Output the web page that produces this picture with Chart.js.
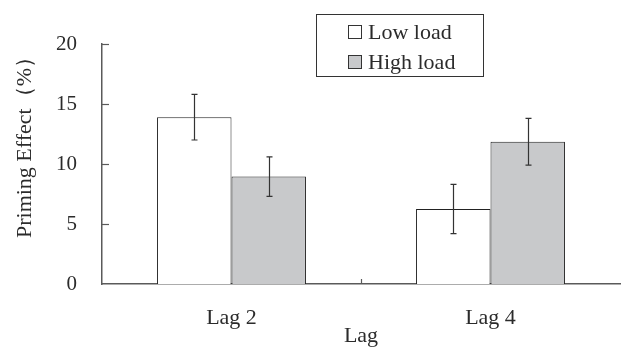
<!DOCTYPE html>
<html>
<head>
<meta charset="utf-8">
<script src="https://cdn.jsdelivr.net/npm/chart.js@4/dist/chart.umd.min.js"></script>
<style>
  html, body { margin: 0; padding: 0; background: #fff; }
  #wrap { width: 621px; height: 347px; }
</style>
</head>
<body>
<div id="wrap"><canvas id="chart" width="621" height="347"></canvas></div>
<script>
// --- data ---
const categories = ['Lag 2', 'Lag 4'];
const lowLoad = [13.9, 6.25];
const lowLoadErr = [1.9, 2.05];
const highLoad = [8.95, 11.85];
const highLoadErr = [1.65, 1.95];
const yTicks = [0, 5, 10, 15, 20];

const FONT = '"Liberation Serif", "DejaVu Serif", serif';
const TEXT = '#2b2b2b';
const AXIS = '#5a5a5a';

const errors = [lowLoadErr, highLoadErr];

// error bars, inward ticks, boxed legend, y title
const extras = {
    id: 'extras',
    afterDatasetsDraw(chart) {
        const ctx = chart.ctx;
        const y = chart.scales.y;
        const x = chart.scales.x;
        const area = chart.chartArea;
        ctx.save();
        ctx.strokeStyle = '#333';
        ctx.lineWidth = 1.2;
        chart.data.datasets.forEach((ds, di) => {
            const meta = chart.getDatasetMeta(di);
            meta.data.forEach((bar, i) => {
                const v = ds.data[i];
                const e = errors[di][i];
                const top = y.getPixelForValue(v + e);
                const bot = y.getPixelForValue(v - e);
                const cx = Math.round(bar.x) + 0.5;
                ctx.beginPath();
                ctx.moveTo(cx, top); ctx.lineTo(cx, bot);
                ctx.moveTo(cx - 3, top); ctx.lineTo(cx + 3, top);
                ctx.moveTo(cx - 3, bot); ctx.lineTo(cx + 3, bot);
                ctx.stroke();
            });
        });

        // inward ticks on y axis
        ctx.strokeStyle = AXIS;
        ctx.lineWidth = 1.2;
        yTicks.forEach(t => {
            if (t === 0) return;
            const py = Math.round(y.getPixelForValue(t)) + 0.5;
            ctx.beginPath();
            ctx.moveTo(area.left, py); ctx.lineTo(area.left + 7, py);
            ctx.stroke();
        });
        // tick between categories on x axis
        const mid = (x.getPixelForValue(0) + x.getPixelForValue(1)) / 2;
        ctx.beginPath();
        ctx.moveTo(Math.round(mid) + 0.5, area.bottom);
        ctx.lineTo(Math.round(mid) + 0.5, area.bottom - 5);
        ctx.stroke();

        // y title
        ctx.fillStyle = TEXT;
        ctx.font = '22px ' + FONT;
        ctx.textAlign = 'center';
        ctx.textBaseline = 'middle';
        ctx.translate(25, 142);
        ctx.rotate(-Math.PI / 2);
        ctx.fillText('Priming Effect（%）', 0, 0);
        ctx.restore();

        // legend box
        ctx.save();
        ctx.strokeStyle = '#333';
        ctx.lineWidth = 1;
        ctx.strokeRect(316.5, 14.5, 167, 62);
        ctx.font = '22px ' + FONT;
        ctx.textBaseline = 'middle';
        ctx.textAlign = 'left';
        chart.data.datasets.forEach((ds, di) => {
            const cy = 32 + di * 30;
            ctx.fillStyle = ds.backgroundColor;
            ctx.fillRect(348.5, cy - 6.5, 13, 13);
            ctx.strokeStyle = '#333';
            ctx.strokeRect(348.5, cy - 6.5, 13, 13);
            ctx.fillStyle = TEXT;
            ctx.fillText(ds.label, 368, cy + 1);
        });
        ctx.restore();
    }
};

new Chart(document.getElementById('chart'), {
    type: 'bar',
    data: {
        labels: categories,
        datasets: [
            { label: 'Low load', data: lowLoad, backgroundColor: '#ffffff', borderColor: '#222', borderWidth: 1 },
            { label: 'High load', data: highLoad, backgroundColor: '#c8c9cb', borderColor: '#222', borderWidth: 1 }
        ]
    },
    options: {
        responsive: false,
        animation: false,
        layout: { padding: { top: 44, right: 1, left: 0, bottom: 0 } },
        datasets: { bar: { barPercentage: 1, categoryPercentage: 0.575 } },
        plugins: { legend: { display: false }, tooltip: { enabled: false } },
        scales: {
            x: {
                grid: { display: false, drawTicks: false },
                border: { display: true, color: AXIS, width: 1.5 },
                ticks: { color: TEXT, padding: 21, font: { family: FONT, size: 22 } },
                title: { display: true, text: 'Lag', color: TEXT, padding: 0, font: { family: FONT, size: 22, lineHeight: 1 } },
                afterFit: s => { s.height = 63; }
            },
            y: {
                min: 0, max: 20,
                afterBuildTicks: s => { s.ticks = yTicks.map(v => ({ value: v })); },
                grid: { display: false, drawTicks: false },
                border: { display: true, color: AXIS, width: 1.5 },
                ticks: { color: TEXT, padding: 25, font: { family: FONT, size: 21 } },
                afterFit: s => { s.width = 102; }
            }
        }
    },
    plugins: [extras]
});
</script>
</body>
</html>
